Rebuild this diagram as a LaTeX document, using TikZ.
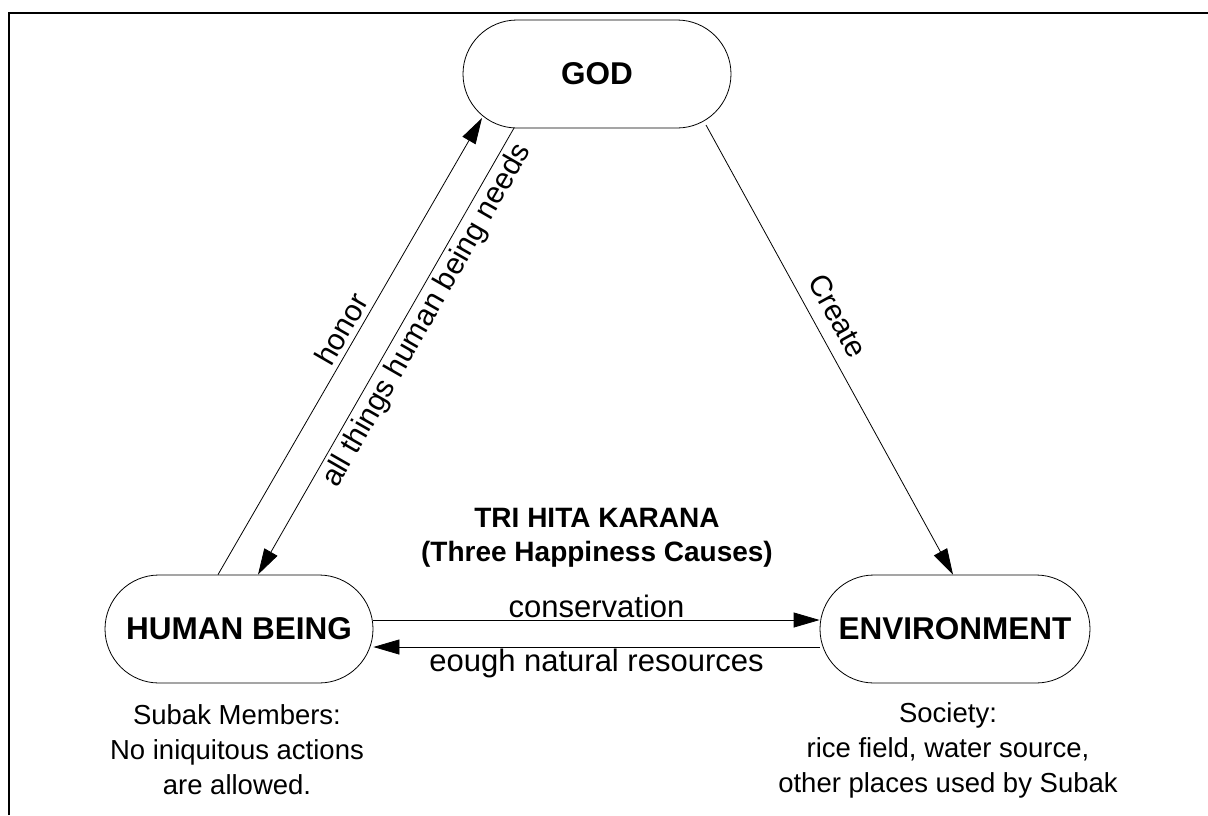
\documentclass[tikz,border=0pt]{standalone}
\usepackage{fontspec}
\setmainfont{Liberation Sans}
\usetikzlibrary{shapes.misc,arrows.meta,calc}
\begin{document}
\begin{tikzpicture}[x=1pt,y=-1pt,
  entity/.style={draw, line width=0.8pt, rounded rectangle, minimum width=268pt, minimum height=108pt, inner sep=0pt, font=\fontsize{31.5}{36}\selectfont\bfseries},
  conn/.style={line width=0.8pt, -{Triangle[length=26pt,width=15pt]}},
  lbl/.style={font=\fontsize{30}{33}\selectfont, inner sep=3pt},
  hlbl/.style={font=\fontsize{31}{36}\selectfont, inner sep=3pt},
  note/.style={font=\fontsize{27.5}{35}\selectfont, align=center}]
\useasboundingbox (0,0) rectangle (1208,815);
\draw[line width=2pt] (9,815) -- (9,13) -- (1208,13);

\node[entity] (god) at (597,74) {GOD};
\node[entity] (human) at (239,629) {HUMAN BEING};
\node[entity, minimum width=270pt] (env) at (955,629) {ENVIRONMENT};

\draw[conn] ($(human.north)+(-21,0)$) -- node[lbl, sloped, above=2pt, pos=0.52]{honor} ($(god.center)+(-115,44)$);
\draw[conn] ($(god.center)+(-83,54)$) -- node[lbl, sloped, below=1pt, pos=0.4]{all things human being needs} ($(human.north)+(19,0)$);
\draw[conn] ($(god.center)+(109,51)$) -- node[lbl, sloped, above=10pt, pos=0.45]{Create} ($(env.north)+(-2,0)$);
\draw[conn] ($(human.east)+(0,-9)$) -- node[hlbl, above, inner sep=2pt]{conservation} ($(env.west)+(0,-9)$);
\draw[conn] ($(env.west)+(0,18)$) -- node[hlbl, below, inner sep=2pt]{eough natural resources} ($(human.east)+(0,18)$);

\node[font=\fontsize{28}{34}\selectfont\bfseries, align=center] (title) at (597,538) {TRI HITA KARANA\\(Three Happiness Causes)};

\node[note] (hnote) at (237,750) {Subak Members:\\No iniquitous actions\\are allowed.};
\node[note] (enote) at (948,750) {Society:\\rice field, water source,\\other places used by Subak};
\end{tikzpicture}
\end{document}
